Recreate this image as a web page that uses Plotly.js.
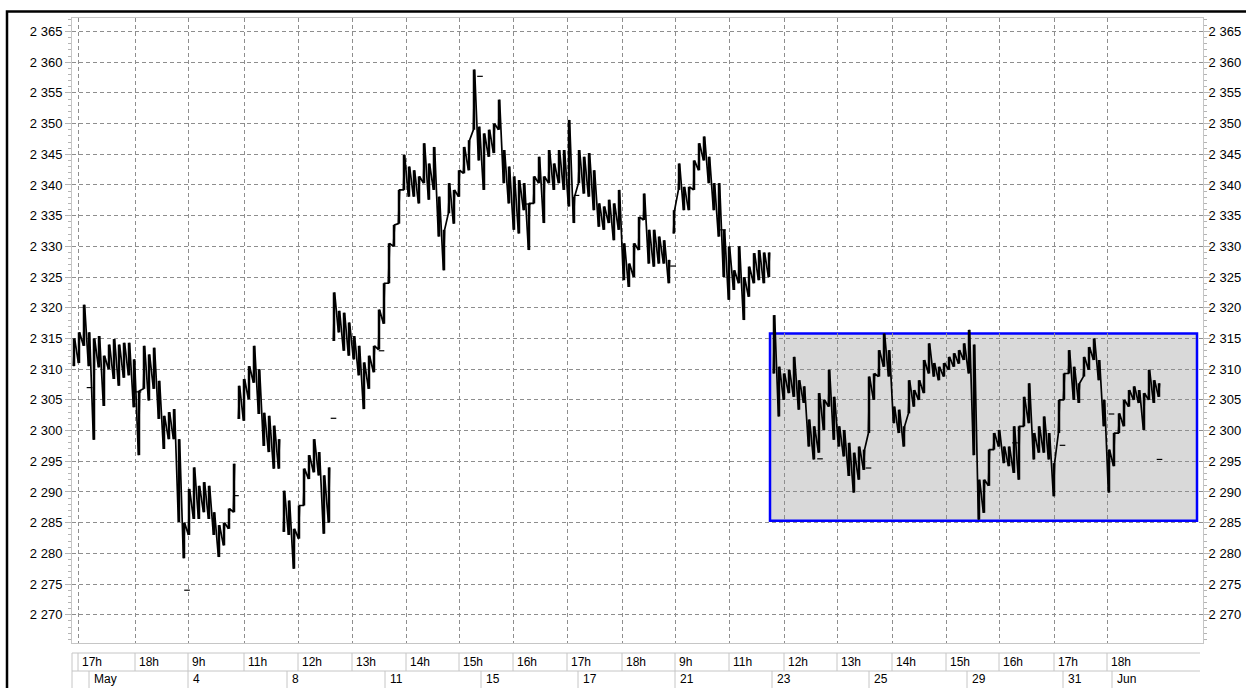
<!DOCTYPE html>
<html><head><meta charset="utf-8">
<script src="https://cdn.plot.ly/plotly-3.0.1.min.js"></script>
<style>html,body{margin:0;padding:0;background:#fff}#chart{width:1246px;height:688px}</style>
</head><body><div id="chart"></div>
<script>
// intraday bars (one value pair per time slot)
const barHigh = [
2315,2316,2320.5,2316,2315,2315.4,2312.2,2314,2314.9,2314,
2314.3,2314.3,2311.6,2306.5,2313.8,2312.4,2313.5,2308.1,2302.4,2303,
2303.5,2298.6,2285,2290.5,2294,2291,2291.6,2291,2286.7,2284.6,
2285,2287.3,2294.6,2307.3,2308.4,2310.5,2313.8,2310,2302.9,2302.4,
2300.8,2298.6,2290.2,2288.6,2284,2287.8,2293.8,2296,2298.6,2296.5,
2292.7,2294,2322.5,2319.5,2319.2,2317.6,2315.4,2313.8,2311.1,2312.2,
2313.8,2319.7,2324,2330.5,2333.5,2339.2,2344.9,2343,2342.4,2341.4,
2346.8,2343.5,2346.2,2338.1,2332.7,2340.3,2339.2,2342.4,2346.2,2347.3,
2358.8,2349.5,2348.4,2349,2350,2353.9,2345.7,2343,2341.4,2340.8,
2340.3,2337,2341.4,2344.6,2341.4,2345.7,2343.5,2345.7,2345.7,2350.6,
2338.1,2345.7,2344.6,2345.2,2342.4,2337,2336.5,2337.6,2337,2339.2,
2330.5,2327.2,2330.5,2334.8,2338.6,2332.7,2332.7,2331.6,2331,2327.8,
2335.9,2343.5,2339.7,2339.7,2344,2346.8,2347.9,2344.6,2340.3,2340.3,
2332.7,2330,2326.1,2330,2325,2326.7,2328.9,2329.4,2329,2329,
2318.8,2310.4,2309.3,2309.9,2312,2308.2,2307.2,2301.8,2300.7,2306.1,
2305,2309.9,2305.5,2300.7,2300.1,2298,2296.4,2297.4,2296.9,2308.8,
2309.3,2313.1,2315.8,2313.1,2303.9,2303.4,2300.7,2308.2,2306.6,2308.2,
2311.5,2314.2,2311,2310.4,2311,2312,2312.6,2313.1,2314.2,2316.4,
2314,2292,2292,2296.9,2299.6,2300.1,2297.4,2297.4,2300.7,2300.7,
2305.5,2307.7,2299.6,2300.7,2302.3,2299.6,2294.7,2305,2309.3,2313.1,
2310.4,2307.7,2312,2313.6,2315,2311.5,2305,2296.9,2299.6,2302.8,
2305,2306.6,2307.2,2306.6,2306.1,2309.9,2308.2,2307.7
];
const barLow = [
2310.5,2311,2313.8,2310.5,2298.5,2310.3,2304,2310,2308.4,2307.3,
2308.6,2309,2303.8,2296,2306.8,2304.9,2306.8,2301.9,2297,2298.6,
2298.6,2285.1,2279.2,2283,2285.6,2285.6,2286.7,2285.6,2283,2279.4,
2281.3,2284,2286.7,2301.9,2301.6,2305.1,2307.8,2302.7,2297.5,2296.5,
2293.8,2293.8,2283.5,2283,2277.5,2282.4,2287.8,2292.1,2293.2,2292.7,
2283.2,2285,2314.6,2316,2313,2312.2,2311.6,2309,2303.5,2306.8,
2309.5,2313.2,2317.4,2324,2330,2333.7,2339.2,2338.1,2338.1,2337,
2340.3,2337.6,2339.2,2331.6,2326.1,2335.4,2333.7,2338.1,2341.9,2342.4,
2349,2344,2339.2,2344.6,2345.2,2349,2340.3,2337,2332.7,2332.1,
2335.9,2329.4,2337,2340.3,2333.8,2340.3,2339.2,2340.3,2339.2,2336.5,
2333.8,2340.3,2338.6,2338.1,2335.9,2333.2,2332.7,2333.8,2331,2332.7,
2324.5,2323.4,2325,2329.4,2334.3,2327.2,2326.7,2327.2,2327.2,2324,
2332.1,2339.2,2335.9,2335.9,2339.2,2342.4,2344,2340.3,2335.9,2331.6,
2325,2321.3,2322.9,2324,2318,2321.8,2324,2324.5,2324,2325,
2309.3,2302.3,2305,2306.1,2305.5,2303.4,2304.5,2297.4,2295.3,2296.4,
2300.1,2303.9,2298.5,2297.4,2295.8,2292.6,2289.9,2292,2293.6,2299.6,
2305,2308.8,2310.4,2308.8,2301.2,2299.6,2297.4,2302.8,2303.9,2305,
2306.1,2309.3,2308.8,2308.2,2308.8,2309.9,2310.4,2310.9,2311.5,2309.3,
2296,2285.5,2286.6,2291,2296.9,2297.4,2294.7,2294.2,2293.1,2292,
2300.7,2301.2,2295.3,2296.4,2296.4,2295.3,2289.3,2299.6,2305,2309.3,
2305,2304.5,2308.8,2309.9,2311.5,2308.2,2300.7,2289.9,2294.2,2299.6,
2300.7,2303.9,2305,2304.5,2300.1,2305,2304.5,2305.5
];
// first slot of each trading session (no connection across these)
const sessionStarts = [33, 42, 52, 120, 140];
// isolated single prints
const strayIdx = [3.1, 12.9, 22.6, 32.4, 51.9, 61.5, 81.2, 90.8, 100.5, 119.8, 129.8, 149.2, 158.9, 188.2, 197.7, 207.5, 217.1];
const strayVal = [2307, 2306.3, 2274, 2289.4, 2302, 2313, 2357.7, 2336.9, 2338.3, 2326.8, 2332.7, 2295.4, 2293.9, 2298, 2297.6, 2302.7, 2295.3];

const hourTickIdx = [0.8, 12.2, 22.8, 34, 44.8, 55.6, 66.4, 77, 87.8, 98.6, 109.6, 120.2, 131, 142, 152.6, 163.6, 174.4, 185, 196, 206.6];
const hourLabels = ['17h','18h','9h','11h','12h','13h','14h','15h','16h','17h','18h','9h','11h','12h','13h','14h','15h','16h','17h','18h'];
const dateTickIdx = [3, 22.8, 42.6, 62.2, 81.4, 100.8, 120.2, 139.6, 159, 178.6, 197.8, 207.6];
const dateLabels = ['May','4','8','11','15','17','21','23','25','29','31','Jun'];

const rangeBoxIdx = [139.2, 224.6];
const rangeBoxVal = [2285.3, 2315.8];

const yRange = [2265.4, 2367.2];
const xRange = [-0.4, 225.8];

// saw-tooth path through each bar: low -> high, then on to the next low
const zx = [], zy = [];
for (let i = 0; i < barHigh.length; i++) {
  if (sessionStarts.indexOf(i) >= 0) { zx.push(null); zy.push(null); }
  zx.push(i - 0.12, i + 0.12); zy.push(barLow[i], barHigh[i]);
}
const barLen = barHigh.map((h, i) => h - barLow[i]);

const FONT = 'Liberation Sans, Arial, sans-serif';
const gridColor = '#8e8e8e';
const frameColor = '#c6c6c6';

const traces = [
  { type: 'bar', x0: 0, dx: 1, y: barLen, base: barLow, width: 0.5,
    marker: { color: '#000', line: { width: 0 } }, hoverinfo: 'skip', showlegend: false },
  { type: 'scatter', mode: 'lines', x: zx, y: zy, connectgaps: false,
    line: { color: '#000', width: 1.7 }, hoverinfo: 'skip', showlegend: false },
  { type: 'scatter', mode: 'markers', x: strayIdx, y: strayVal,
    marker: { symbol: 'line-ew', size: 4, line: { color: '#000', width: 1.2 } }, hoverinfo: 'skip', showlegend: false },
  { type: 'scatter', mode: 'markers', x: [0], y: [barLow[0]], yaxis: 'y2',
    marker: { opacity: 0 }, hoverinfo: 'skip', showlegend: false }
];

// row geometry in paper units (plot area height 625px)
const rowTop = -10 / 625, rowMid = -28 / 625, rowBot = -46 / 625;

const shapes = [
  { type: 'rect', xref: 'paper', yref: 'paper', x0: -65 / 1131, x1: 1.1, y0: -0.2, y1: 631.5 / 625,
    line: { color: '#000', width: 2.5 }, fillcolor: 'rgba(0,0,0,0)', layer: 'below' },
  { type: 'rect', xref: 'x', yref: 'y', x0: rangeBoxIdx[0], x1: rangeBoxIdx[1], y0: rangeBoxVal[0], y1: rangeBoxVal[1],
    line: { color: '#0000ff', width: 2.5 }, fillcolor: '#d9d9d9', layer: 'below' },
  { type: 'line', xref: 'paper', yref: 'paper', x0: 0, x1: 1128 / 1131, y0: rowTop, y1: rowTop, line: { color: frameColor, width: 1 } },
  { type: 'line', xref: 'paper', yref: 'paper', x0: 0, x1: 1128 / 1131, y0: rowMid, y1: rowMid, line: { color: frameColor, width: 1 } },
  { type: 'line', xref: 'paper', yref: 'paper', x0: 0, x1: 0, y0: rowTop, y1: rowBot, line: { color: frameColor, width: 1 } }
];
hourTickIdx.forEach(v => shapes.push({ type: 'line', xref: 'x', yref: 'paper', x0: v, x1: v, y0: rowTop, y1: rowMid, line: { color: frameColor, width: 1 } }));
dateTickIdx.forEach(v => shapes.push({ type: 'line', xref: 'x', yref: 'paper', x0: v, x1: v, y0: rowMid, y1: rowBot, line: { color: frameColor, width: 1 } }));

const annotations = [];
hourLabels.forEach((t, k) => annotations.push({ text: t, xref: 'x', yref: 'paper', x: hourTickIdx[k], y: (rowTop + rowMid) / 2,
  xanchor: 'left', yanchor: 'middle', xshift: 2, showarrow: false, font: { family: FONT, size: 12, color: '#000' } }));
dateLabels.forEach((t, k) => annotations.push({ text: t, xref: 'x', yref: 'paper', x: dateTickIdx[k], y: (rowMid + rowBot) / 2 + 0.002,
  xanchor: 'left', yanchor: 'middle', xshift: 3, showarrow: false, font: { family: FONT, size: 12, color: '#000' } }));

const yCommon = {
  range: yRange, tick0: 2270, dtick: 5, tickformat: ',d', ticks: 'outside', ticklen: 6, tickwidth: 1, tickcolor: '#b4b4b4',
  minor: { dtick: 1, ticks: 'outside', ticklen: 3, tickcolor: '#b4b4b4', showgrid: false },
  tickfont: { family: FONT, size: 13, color: '#000' }, zeroline: false, showline: true, linecolor: frameColor, linewidth: 1
};

const layout = {
  width: 1246, height: 688,
  margin: { l: 72, r: 43, t: 18, b: 45, pad: 0 },
  paper_bgcolor: '#fff', plot_bgcolor: '#fff',
  separators: '. ',
  showlegend: false, barmode: 'overlay',
  font: { family: FONT, size: 12, color: '#000' },
  xaxis: { range: xRange, tickvals: hourTickIdx, showticklabels: false, ticks: '', showgrid: true, gridcolor: gridColor,
    griddash: '4px,3px', gridwidth: 1, zeroline: false, showline: true, mirror: true, linecolor: frameColor, linewidth: 1 },
  yaxis: Object.assign({}, yCommon, { side: 'left', showgrid: true, gridcolor: gridColor, griddash: '4px,3px', gridwidth: 1 }),
  yaxis2: Object.assign({}, yCommon, { side: 'right', overlaying: 'y', showgrid: false, ticklabelstandoff: -4 }),
  shapes: shapes, annotations: annotations
};

Plotly.newPlot('chart', traces, layout, { displayModeBar: false, staticPlot: true });
</script>
</body></html>
